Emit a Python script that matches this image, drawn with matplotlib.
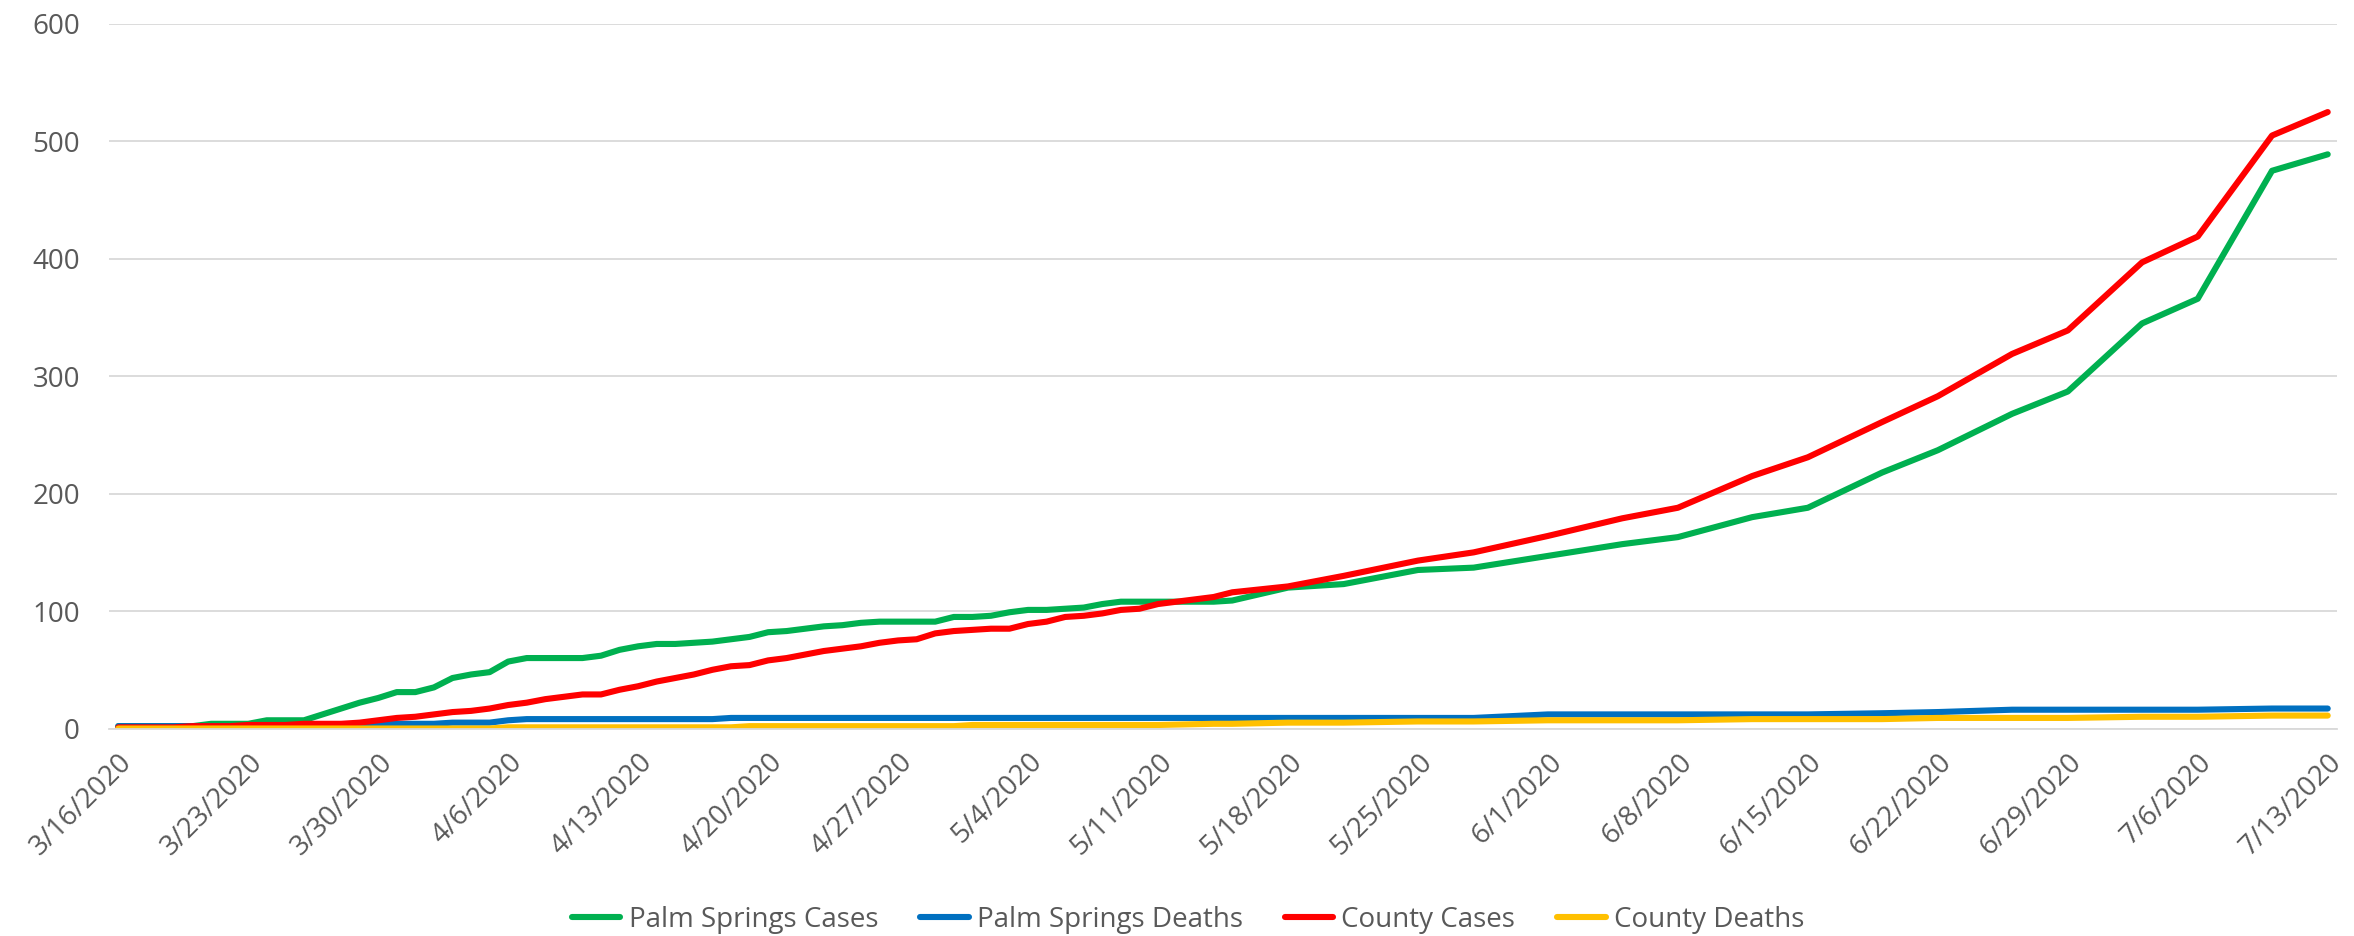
import matplotlib
matplotlib.use('Agg')
import matplotlib.pyplot as plt
import matplotlib.dates as mdates
import pandas as pd

plt.rcParams['font.family'] = ['Open Sans', 'DejaVu Sans']

# daily reports up to 5/11, then twice a week
daily_dates = pd.date_range('2020-03-16', '2020-05-11')
later_dates = ['2020-05-14', '2020-05-15', '2020-05-18', '2020-05-21', '2020-05-25',
               '2020-05-28', '2020-06-01', '2020-06-05', '2020-06-08', '2020-06-12',
               '2020-06-15', '2020-06-19', '2020-06-22', '2020-06-26', '2020-06-29',
               '2020-07-03', '2020-07-06', '2020-07-10', '2020-07-13']
dates = list(daily_dates) + list(pd.to_datetime(later_dates))

ps_cases = [2, 2, 2, 2, 2, 4, 4, 4, 7, 7,
            7, 12, 17, 22, 26, 31, 31, 35, 43, 46,
            48, 57, 60, 60, 60, 60, 62, 67, 70, 72,
            72, 73, 74, 76, 78, 82, 83, 85, 87, 88,
            90, 91, 91, 91, 91, 95, 95, 96, 99, 101,
            101, 102, 103, 106, 108, 108, 108,
            108, 109, 120, 123, 135, 137, 147, 157, 163, 180,
            188, 218, 237, 268, 287, 345, 366, 475, 489]

ps_deaths = [2, 2, 2, 2, 2, 2, 2, 2, 2, 2,
             2, 2, 2, 2, 4, 4, 4, 4, 5, 5,
             5, 7, 8, 8, 8, 8, 8, 8, 8, 8,
             8, 8, 8, 9, 9, 9, 9, 9, 9, 9,
             9, 9, 9, 9, 9, 9, 9, 9, 9, 9,
             9, 9, 9, 9, 9, 9, 9,
             9, 9, 9, 9, 9, 9, 12, 12, 12, 12,
             12, 13, 14, 16, 16, 16, 16, 17, 17]

county_cases = [1, 1, 1, 1, 2, 2, 2, 3, 3, 3,
                4, 4, 4, 5, 7, 9, 10, 12, 14, 15,
                17, 20, 22, 25, 27, 29, 29, 33, 36, 40,
                43, 46, 50, 53, 54, 58, 60, 63, 66, 68,
                70, 73, 75, 76, 81, 83, 84, 85, 85, 89,
                91, 95, 96, 98, 101, 102, 106,
                112, 116, 121, 130, 143, 150, 164, 179, 188, 215,
                231, 261, 283, 319, 339, 397, 419, 505, 525]

county_deaths = [0, 0, 0, 0, 0, 0, 0, 0, 0, 0,
                 0, 0, 0, 0, 0, 0, 0, 0, 0, 0,
                 0, 1, 1, 1, 1, 1, 1, 1, 1, 1,
                 1, 1, 1, 1, 2, 2, 2, 2, 2, 2,
                 2, 2, 2, 2, 2, 2, 3, 3, 3, 3,
                 3, 3, 3, 3, 3, 3, 3,
                 4, 4, 5, 5, 6, 6, 7, 7, 7, 8,
                 8, 8, 9, 9, 9, 10, 10, 11, 11]

tick_labels = ['3/16/2020', '3/23/2020', '3/30/2020', '4/6/2020', '4/13/2020',
               '4/20/2020', '4/27/2020', '5/4/2020', '5/11/2020', '5/18/2020',
               '5/25/2020', '6/1/2020', '6/8/2020', '6/15/2020', '6/22/2020',
               '6/29/2020', '7/6/2020', '7/13/2020']

series = [('Palm Springs Cases', ps_cases, '#00B050'),
          ('Palm Springs Deaths', ps_deaths, '#0070C0'),
          ('County Cases', county_cases, '#FF0000'),
          ('County Deaths', county_deaths, '#FFC000')]

txt = '#595959'
fig = plt.figure(figsize=(23.54, 9.36), dpi=100)
ax = fig.add_axes([109/2354, 1-728.5/936, (2337-109)/2354, (728.5-24)/936])

for name, vals, col in series:
    ax.plot(dates, vals, color=col, lw=4.4, label=name,
            solid_capstyle='round', solid_joinstyle='round')

half = pd.Timedelta(hours=12)
ax.set_xlim(pd.Timestamp('2020-03-16') - half, pd.Timestamp('2020-07-13') + half)
ax.set_ylim(0, 600)
ax.set_yticks(range(0, 601, 100))
ax.set_xticks(pd.to_datetime(tick_labels, format='%m/%d/%Y'))
ax.set_xticklabels(tick_labels, rotation=45, ha='right', va='top',
                   rotation_mode='anchor')

ax.yaxis.grid(True, color='#D9D9D9', linewidth=1.3)
ax.set_axisbelow(True)
for s in ['top', 'right', 'left']:
    ax.spines[s].set_visible(False)
ax.spines['bottom'].set_color('#D9D9D9')
ax.spines['bottom'].set_linewidth(1.3)
ax.tick_params(axis='both', length=0, labelsize=20, labelcolor=txt)
ax.tick_params(axis='y', pad=21)
ax.tick_params(axis='x', pad=14)

leg = fig.legend(loc='center', bbox_to_anchor=(0.5047, 0.017), ncol=4,
                 frameon=False, fontsize=20, handlelength=1.75,
                 handletextpad=0.3, columnspacing=1.5)
for t in leg.get_texts():
    t.set_color(txt)

fig.savefig('out.png', dpi=100)
